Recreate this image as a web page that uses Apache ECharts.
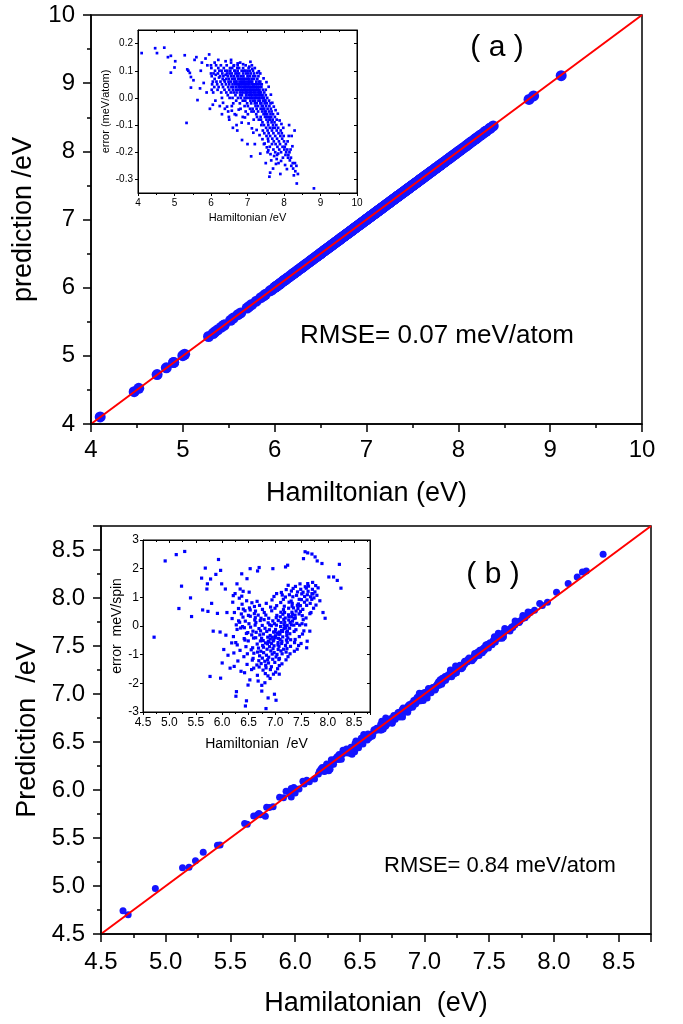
<!DOCTYPE html>
<html><head><meta charset="utf-8">
<script src="https://cdn.jsdelivr.net/npm/echarts@6/dist/echarts.min.js"></script>
<style>html,body{margin:0;padding:0;background:#fff}#c{width:683px;height:1024px}</style>
</head><body><div id="c"></div>
<script>
// ---------------- tick labels ----------------
const mainTicksA = [4, 5, 6, 7, 8, 9, 10];
const mainTicksB = [4.5, 5.0, 5.5, 6.0, 6.5, 7.0, 7.5, 8.0, 8.5];
const mainMaxB = 8.75;
const insetAXTicks = [4, 5, 6, 7, 8, 9, 10];
const insetAYTicks = [-0.3, -0.2, -0.1, 0.0, 0.1, 0.2];
const insetAYRange = [-0.35, 0.25];
const insetBXTicks = [4.5, 5.0, 5.5, 6.0, 6.5, 7.0, 7.5, 8.0, 8.5];
const insetBXMax = 8.8;
const insetBYTicks = [-3, -2, -1, 0, 1, 2, 3];
// reference line y = x
const diagA = [4, 10];
const diagB = [4.5, 8.75];
// atoms / spins per cell used to convert per-atom (per-spin) error (meV) into total eV
const nAtomA = 24;
const nSpinB = 24;

// ---------------- panel (a): [Hamiltonian eV, error meV/atom] ----------------
const hamErrA = [
[4.1,0.165],[4.47,0.183],[4.52,0.165],[4.72,0.185],[4.82,0.15],[4.9,0.155],[4.9,0.093],[5.02,0.135],[5.0,0.112],
[5.28,0.157],[5.33,-0.092],[5.35,0.105],[5.38,0.1],[5.42,0.092],[5.45,0.077],[5.45,0.038],[5.52,0.065],[5.55,0.14],
[5.6,0.15],[5.63,-0.008],[5.7,0.035],[5.72,0.1],[5.75,0.13],[5.8,0.055],[5.85,0.145],[5.88,0.02],[5.9,0.12],
[5.95,0.16],[5.97,-0.04],[6.0,0.09],[6.02,0.03],[6.05,-0.025],[6.1,0.13],[6.0,0.12],[6.2,0.14],
[6.02,0.08],[6.03,0.05],[6.01,0.11],[6.06,0.02],[6.07,0.09],[6.05,0.06],
[6.1,0.07],[6.11,0.1],[6.09,0.04],[6.12,-0.01],[6.14,0.12],[6.15,0.06],[6.13,0.085],
[6.18,0.03],[6.19,0.09],[6.17,0.05],[6.2,0.11],[6.22,0.075],[6.23,0.1],[6.21,0.04],[6.24,-0.03],
[6.26,0.06],[6.27,0.12],[6.25,0.08],[6.28,0.02],[6.3,0.05],[6.31,0.09],[6.29,0.1],[6.32,0.07],[6.3,0.0],
[6.34,0.08],[6.35,0.11],[6.33,0.04],[6.36,0.065],[6.38,0.06],[6.39,0.1],[6.37,0.03],[6.4,0.085],[6.38,-0.04],
[6.42,0.07],[6.43,0.12],[6.41,0.05],[6.44,0.09],[6.42,0.02],
[6.46,0.08],[6.47,0.04],[6.45,0.1],[6.48,0.06],[6.46,0.01],[6.47,-0.05],
[6.5,0.05],[6.51,0.09],[6.49,0.07],[6.52,0.11],[6.5,0.03],[6.51,0.0],[6.49,-0.07],
[6.54,0.06],[6.55,0.08],[6.53,0.1],[6.56,0.04],[6.54,0.02],[6.55,0.13],
[6.58,0.07],[6.59,0.05],[6.57,0.09],[6.6,0.03],[6.58,0.11],[6.59,0.0],[6.57,-0.03],
[6.62,0.08],[6.63,0.06],[6.61,0.04],[6.64,0.1],[6.62,0.02],[6.63,0.12],[6.61,-0.02],[6.64,0.07],
[6.66,0.05],[6.67,0.09],[6.65,0.07],[6.68,0.03],[6.66,0.1],[6.67,0.01],[6.65,-0.06],[6.68,0.06],
[6.7,0.06],[6.71,0.08],[6.69,0.04],[6.72,0.11],[6.7,0.02],[6.71,0.09],[6.69,-0.01],[6.72,0.05],[6.7,-0.1],
[6.74,0.07],[6.75,0.03],[6.73,0.1],[6.76,0.05],[6.74,0.0],[6.75,0.08],[6.73,0.12],[6.76,0.04],
[6.78,0.06],[6.79,0.02],[6.77,0.09],[6.8,0.04],[6.78,0.07],[6.79,-0.02],[6.77,0.11],[6.8,0.01],[6.78,0.05],
[6.82,0.05],[6.83,0.08],[6.81,0.03],[6.84,0.1],[6.82,0.0],[6.83,0.06],[6.81,-0.04],[6.84,0.02],[6.82,0.07],
[6.86,0.04],[6.87,0.07],[6.85,0.01],[6.88,0.09],[6.86,0.05],[6.87,-0.01],[6.85,0.03],[6.88,0.11],[6.86,0.06],[6.87,-0.07],
[6.9,0.06],[6.91,0.03],[6.89,0.08],[6.92,0.0],[6.9,0.05],[6.91,0.1],[6.89,0.02],[6.92,-0.03],[6.9,0.07],[6.91,0.04],
[6.94,0.05],[6.95,0.02],[6.93,0.07],[6.96,0.09],[6.94,-0.01],[6.95,0.04],[6.93,0.06],[6.96,0.01],[6.94,0.1],[6.95,-0.05],[6.93,0.03],
[6.98,0.04],[6.99,0.06],[6.97,0.01],[7.0,0.08],[6.98,0.03],[6.99,-0.02],[6.97,0.05],[7.0,0.1],[6.98,0.0],[6.99,0.07],[6.97,0.02],
[7.02,0.05],[7.03,0.03],[7.01,0.07],[7.04,0.0],[7.02,0.09],[7.03,0.04],[7.01,-0.03],[7.04,0.06],[7.02,0.02],[7.03,0.11],[7.01,-0.06],[7.04,0.01],
[7.06,0.04],[7.07,0.02],[7.05,0.06],[7.08,-0.01],[7.06,0.08],[7.07,0.03],[7.05,0.05],[7.08,0.0],[7.06,0.1],[7.07,-0.04],[7.05,0.07],
[7.1,0.03],[7.11,0.05],[7.09,0.01],[7.12,0.07],[7.1,-0.02],[7.11,0.04],[7.09,0.09],[7.12,0.0],[7.1,0.06],[7.11,-0.05],[7.09,0.02],[7.12,0.12],
[7.14,0.02],[7.15,0.04],[7.13,0.06],[7.16,-0.01],[7.14,0.03],[7.15,0.08],[7.13,0.0],[7.16,0.05],[7.14,-0.04],[7.15,0.1],[7.13,0.01],
[7.18,0.03],[7.19,0.01],[7.17,0.05],[7.2,-0.02],[7.18,0.07],[7.19,0.02],[7.17,-0.05],[7.2,0.04],[7.18,0.09],[7.19,0.0],[7.17,-0.08],
[7.22,0.02],[7.23,0.04],[7.21,0.0],[7.24,0.06],[7.22,-0.03],[7.23,0.01],[7.21,0.08],[7.24,-0.06],[7.22,0.03],[7.23,0.05],[7.21,-0.01],
[7.26,0.01],[7.27,0.03],[7.25,-0.02],[7.28,0.05],[7.26,0.0],[7.27,0.07],[7.25,-0.04],[7.28,0.02],[7.26,-0.07],[7.27,0.04],
[7.3,0.0],[7.31,0.02],[7.29,-0.03],[7.32,0.04],[7.3,-0.01],[7.31,0.06],[7.29,-0.05],[7.32,0.01],[7.3,0.08],[7.31,-0.08],[7.29,0.03],
[7.34,-0.01],[7.35,0.01],[7.33,0.03],[7.36,-0.04],[7.34,0.05],[7.35,-0.02],[7.33,0.0],[7.36,-0.07],[7.34,0.02],[7.35,0.06],
[7.38,-0.02],[7.39,0.0],[7.37,0.02],[7.4,-0.05],[7.38,0.04],[7.39,-0.03],[7.37,-0.08],[7.4,0.01],[7.38,-0.1],[7.39,0.05],
[7.42,-0.03],[7.43,-0.01],[7.41,0.01],[7.44,-0.06],[7.42,0.03],[7.43,-0.04],[7.41,-0.09],[7.44,0.0],[7.42,-0.12],
[7.46,-0.04],[7.47,-0.02],[7.45,0.0],[7.48,-0.07],[7.46,0.02],[7.47,-0.05],[7.45,-0.1],[7.48,-0.01],[7.46,-0.13],
[7.5,-0.05],[7.51,-0.03],[7.49,-0.01],[7.52,-0.08],[7.5,0.01],[7.51,-0.11],[7.49,-0.06],[7.52,-0.14],[7.5,0.03],
[7.54,-0.06],[7.55,-0.04],[7.53,-0.02],[7.56,-0.09],[7.54,0.0],[7.55,-0.12],[7.53,-0.07],[7.56,-0.15],
[7.58,-0.07],[7.59,-0.05],[7.57,-0.1],[7.6,-0.03],[7.58,-0.13],[7.59,-0.01],[7.57,-0.16],[7.6,-0.08],
[7.62,-0.08],[7.63,-0.06],[7.61,-0.11],[7.64,-0.04],[7.62,-0.14],[7.63,-0.02],[7.61,-0.18],
[7.66,-0.09],[7.67,-0.12],[7.65,-0.07],[7.68,-0.15],[7.66,-0.05],[7.67,-0.17],
[7.7,-0.1],[7.71,-0.13],[7.69,-0.08],[7.72,-0.16],[7.7,-0.06],[7.71,-0.19],[7.69,-0.11],
[7.75,-0.11],[7.76,-0.14],[7.74,-0.09],[7.77,-0.17],[7.75,-0.07],[7.76,-0.2],
[7.8,-0.12],[7.81,-0.15],[7.79,-0.1],[7.82,-0.18],[7.8,-0.08],[7.81,-0.21],
[7.85,-0.13],[7.86,-0.16],[7.84,-0.11],[7.87,-0.19],[7.85,-0.24],
[7.9,-0.14],[7.91,-0.12],[7.89,-0.17],[7.92,-0.2],[7.9,-0.28],
[7.95,-0.15],[7.96,-0.18],[7.94,-0.13],[7.97,-0.22],
[8.0,-0.16],[8.01,-0.19],[7.99,-0.14],[8.02,-0.18],[8.05,-0.17],[8.06,-0.2],[8.04,-0.21],
[8.1,-0.16],[8.11,-0.22],[8.09,-0.19],[8.12,-0.21],[8.15,-0.2],[8.16,-0.23],[8.14,-0.1],
[8.2,-0.25],[8.21,-0.14],[8.19,-0.22],[8.25,-0.26],[8.24,-0.24],[8.3,-0.24],[8.31,-0.27],[8.29,-0.12],
[8.35,-0.315],[8.34,-0.25],[8.38,-0.28],[8.77,-0.36],[8.82,-0.333],[9.12,-0.4],
[6.3,-0.06],[6.5,-0.08],[6.6,-0.11],[6.72,-0.12],[6.85,-0.155],[7.0,-0.17],[7.1,-0.215],[7.2,-0.17],
[7.35,-0.205],[7.45,-0.17],[7.5,-0.24],[7.55,-0.2],[7.6,-0.29],[7.62,-0.275],[7.65,-0.23],[7.7,-0.26],[7.8,-0.225],
[6.4,0.135],[6.55,0.14],[6.8,0.13],[6.95,0.12],[7.05,0.115],[7.2,0.11],[7.35,0.09],
[6.62,0.118],[6.73,0.127],[6.88,0.124],[7.08,0.133],[7.13,0.107],[7.27,0.092],[7.31,0.098],[7.44,0.072],
[7.52,0.058],[7.58,0.041],[7.64,0.012],[7.68,-0.018],[7.72,-0.032],[7.77,-0.045],[7.83,-0.058],[7.88,-0.083],
[7.93,-0.096],[7.98,-0.11],[6.33,-0.018],[6.44,-0.032],[6.57,-0.047],[6.69,-0.063],[6.76,-0.043],[6.84,-0.091],
[6.93,-0.072],[7.03,-0.094],[7.12,-0.112],[7.16,-0.128],[7.25,-0.118],[7.33,-0.137],[7.41,-0.152],[7.47,-0.168],
[7.53,-0.182],[7.57,-0.193],[7.63,-0.207],[7.73,-0.214],[7.78,-0.243],[7.84,-0.205],[7.92,-0.232],[8.03,-0.247],
[8.08,-0.262],[8.18,-0.19],[8.27,-0.285],[8.13,-0.14],[8.23,-0.178]
];

// ---------------- panel (b): [Hamiltonian eV, error meV/spin] ----------------
const hamErrB = [
[4.67,3.05],[4.71,-0.39],[4.92,2.27],[5.13,2.49],[5.29,2.6],[5.18,0.61],[5.23,1.39],[5.4,0.98],[5.42,0.33],[5.61,1.67],
[5.63,0.56],[5.68,2.02],[5.71,1.29],[5.72,1.47],[5.73,0.51],[5.77,-1.76],[5.78,1.64],[5.8,0.79],[5.83,-0.18],
[5.88,1.8],[5.91,0.44],[5.93,2.32],[5.96,-0.21],[5.97,1.94],[5.97,-1.82],[5.99,1.47],[6.0,-1.29],[6.03,-0.82],
[6.06,1.29],[6.07,-0.32],[6.09,0.47],[6.11,-1.02],[6.15,-1.47],[6.18,-0.59],[6.21,1.06],[6.26,-2.45],[6.27,-2.29],
[6.28,1.47],[6.34,1.29],[6.37,1.82],[6.4,0.59],[6.42,-0.06],[6.44,-2.79],[6.46,-2.61],[6.47,1.65],[6.49,-2.06],
[6.53,2.0],[6.67,1.92],[6.7,2.04],[6.75,-2.27],[6.83,-2.88],[6.87,-2.51],[6.96,2.0],[6.99,-2.38],[7.02,-2.59],
[7.2,2.06],[7.24,2.12],[7.54,2.35],[7.62,2.55],[7.7,2.51],[7.76,2.41],[7.57,2.59],[7.8,2.27],[7.89,2.18],
[8.02,1.71],[8.11,1.71],[8.18,1.59],[8.22,2.15],[8.25,1.32],[7.91,0.47],[7.95,0.27],[7.85,0.88],[7.72,1.12],
[7.66,-0.18],[7.61,-0.53],[7.6,-0.76],[8.38,3.2],
[6.2,0.83],[6.213,-0.37],[6.188,0.26],[6.221,-0.94],
[6.231,0.47],[6.257,-0.58],[6.244,1.13],[6.267,0.04],[6.227,-1.41],
[6.311,0.18],[6.285,-0.66],[6.324,0.97],[6.297,-1.22],[6.309,0.61],[6.282,-0.12],
[6.35,-0.07],[6.363,0.42],[6.338,-0.85],[6.371,1.04],[6.331,0.13],[6.357,-1.58],
[6.394,0.31],[6.417,-0.44],[6.377,0.76],[6.411,-1.07],[6.385,-0.02],[6.424,-1.63],[6.397,1.21],
[6.459,-0.26],[6.432,0.53],[6.45,-0.72],[6.463,0.88],[6.438,0.17],[6.471,-1.34],[6.431,-0.49],
[6.507,0.08],[6.494,-0.52],[6.517,0.63],[6.477,-0.97],[6.511,1.18],[6.485,-0.23],[6.524,-1.88],[6.497,0.37],
[6.559,-0.31],[6.532,0.34],[6.55,-0.83],[6.563,0.81],[6.538,-0.04],[6.571,-1.19],[6.531,0.56],[6.557,-1.52],
[6.594,-0.42],[6.617,0.21],[6.577,-0.76],[6.611,0.68],[6.585,-1.13],[6.624,0.03],[6.597,-1.47],[6.609,0.43],[6.582,-0.18],[6.6,-0.95],
[6.663,-0.63],[6.638,0.12],[6.671,-0.91],[6.631,0.52],[6.657,-1.36],[6.644,-0.22],[6.667,-1.72],[6.627,0.29],[6.661,0.86],[6.635,-0.41],
[6.724,-0.52],[6.697,-0.09],[6.709,-1.04],[6.682,0.38],[6.7,-1.43],[6.713,-0.31],[6.688,-0.77],[6.721,0.19],[6.681,-1.92],[6.707,0.72],[6.694,-1.21],
[6.767,-0.68],[6.727,-0.17],[6.761,-1.12],[6.735,0.27],[6.774,-1.54],[6.747,-0.43],[6.759,0.02],[6.732,-0.88],[6.75,-2.07],[6.763,0.58],[6.738,-1.31],
[6.821,-0.59],[6.781,-0.28],[6.807,-1.23],[6.794,0.22],[6.817,-1.66],[6.777,-0.51],[6.811,-0.08],[6.785,-0.93],[6.824,-1.37],[6.797,0.47],[6.809,-1.98],[6.782,-0.74],
[6.85,-0.81],[6.863,-0.39],[6.838,-1.02],[6.871,0.11],[6.831,-1.46],[6.857,-0.62],[6.844,-0.19],[6.867,-1.74],[6.827,0.38],[6.861,-1.18],[6.835,0.79],[6.874,-0.53],
[6.897,-0.72],[6.909,-0.33],[6.882,-1.09],[6.9,0.04],[6.913,-1.52],[6.888,-0.56],[6.921,-0.87],[6.881,0.27],[6.907,-1.83],[6.894,-0.13],[6.917,0.66],[6.877,-1.29],[6.911,-0.45],
[6.935,-0.61],[6.974,-0.21],[6.947,-0.98],[6.959,0.18],[6.932,-1.42],[6.95,-0.39],[6.963,-0.79],[6.938,0.53],[6.971,-1.68],[6.931,0.01],[6.957,-1.16],[6.944,0.91],[6.967,-0.52],
[6.977,-0.48],[7.011,-0.12],[6.985,-0.93],[7.024,0.29],[6.997,-1.27],[7.009,-0.34],[6.982,-0.69],[7.0,0.62],[7.013,-1.61],[6.988,0.08],[7.021,-1.08],[6.981,1.03],[7.007,-0.41],[6.994,-0.21],
[7.067,-0.43],[7.027,0.03],[7.061,-0.82],[7.035,0.37],[7.074,-1.17],[7.047,-0.24],[7.059,-0.58],[7.032,0.71],[7.05,-1.49],[7.063,0.19],[7.038,-0.99],[7.071,-0.29],[7.031,1.13],[7.057,-0.66],
[7.094,-0.28],[7.117,0.12],[7.077,-0.71],[7.111,0.48],[7.085,-1.13],[7.124,-0.16],[7.097,-0.47],[7.109,0.82],[7.082,-1.38],[7.1,0.32],[7.113,-0.87],[7.088,-0.21],[7.121,1.17],[7.081,-1.68],[7.107,-0.02],
[7.144,-0.19],[7.167,0.23],[7.127,-0.61],[7.161,0.57],[7.135,-0.97],[7.174,0.04],[7.147,-0.38],[7.159,0.93],[7.132,-1.32],[7.15,0.41],[7.163,-0.81],[7.138,1.08],[7.171,-0.09],[7.131,-0.53],
[7.207,-0.07],[7.194,0.28],[7.217,-0.49],[7.177,0.69],[7.211,-0.91],[7.185,0.13],[7.224,-0.33],[7.197,1.01],[7.209,-1.18],[7.182,0.47],[7.2,-0.68],[7.213,1.27],[7.188,-0.02],[7.221,-0.22],
[7.231,0.02],[7.257,0.39],[7.244,-0.42],[7.267,0.83],[7.227,-0.79],[7.261,0.21],[7.235,-0.18],[7.274,1.09],[7.247,-1.07],[7.259,0.62],[7.232,-0.57],[7.25,1.42],[7.263,0.33],
[7.288,0.12],[7.321,0.48],[7.281,-0.27],[7.307,0.87],[7.294,-0.71],[7.317,0.32],[7.277,-0.08],[7.311,1.22],[7.285,-0.97],[7.324,0.69],[7.297,-0.48],[7.309,0.04],
[7.332,0.17],[7.35,0.63],[7.363,-0.19],[7.338,1.02],[7.371,-0.58],[7.331,0.41],[7.357,0.03],[7.344,1.31],[7.367,-0.88],[7.327,0.79],[7.361,0.26],
[7.385,0.28],[7.424,0.72],[7.397,-0.13],[7.409,1.07],[7.382,-0.47],[7.4,0.52],[7.413,0.09],[7.388,1.38],[7.421,-0.81],[7.381,0.38],
[7.457,0.42],[7.444,0.77],[7.467,0.03],[7.427,1.19],[7.461,-0.37],[7.435,0.61],[7.474,1.47],[7.447,-0.68],[7.459,0.93],
[7.482,0.51],[7.5,0.92],[7.513,0.08],[7.488,1.28],[7.521,-0.28],[7.481,0.71],[7.507,1.12],[7.494,-0.61],[7.517,0.36],
[7.527,0.58],[7.561,1.03],[7.535,0.22],[7.574,1.37],[7.547,-0.17],[7.559,0.83],[7.532,1.18],
[7.6,0.72],[7.613,1.09],[7.588,0.28],[7.621,1.48],[7.581,0.04],[7.607,0.91],[7.594,1.32],
[7.667,0.79],[7.627,1.21],[7.661,0.43],[7.635,1.39],[7.674,1.02],
[7.697,0.93],[7.709,1.28],[7.682,0.47],[7.7,1.13],[7.713,1.52],
[7.738,0.98],[7.771,1.41],[7.731,0.62],[7.757,1.19],
[7.794,1.07],[7.817,1.33],[7.777,0.73]
];

// ---------------- build chart ----------------
const FONT = '"Liberation Sans", Arial, sans-serif';
const BLACK = '#000';
const chart = echarts.init(document.getElementById('c'), null, {renderer: 'canvas'});

const predA = hamErrA.map(p => [p[0], p[0] + p[1] * nAtomA / 1000]);
const predB = hamErrB.map(p => [p[0], p[0] + p[1] * nSpinB / 1000]);

function mainAxis(o) {
  return {
    type: 'value', gridIndex: o.grid, position: o.position,
    min: o.min, max: o.max, interval: o.interval,
    name: o.name, nameLocation: 'middle', nameGap: o.nameGap,
    nameTextStyle: {fontSize: o.nameSize, fontFamily: FONT, color: BLACK},
    axisLine: {show: true, onZero: false, lineStyle: {color: BLACK, width: 1.5}},
    axisTick: {show: true, inside: false, length: 8, lineStyle: {color: BLACK, width: 1.5}},
    minorTick: {show: true, splitNumber: 2, length: 4, lineStyle: {color: BLACK, width: 1.5}},
    axisLabel: {show: true, fontSize: 24, fontFamily: FONT, color: BLACK, margin: o.margin,
      formatter: o.fmt, showMaxLabel: o.showMax !== false, showMinLabel: true, hideOverlap: false},
    splitLine: {show: false}, minorSplitLine: {show: false}, z: 5
  };
}
function insetAxis(o) {
  const ax = {
    type: 'value', gridIndex: o.grid, position: o.position,
    min: o.min, max: o.max,
    axisLine: {show: true, onZero: false, lineStyle: {color: BLACK, width: 1}},
    axisTick: {show: true, inside: !!o.inside, length: 3, lineStyle: {color: BLACK, width: 1}},
    minorTick: {show: !!o.minor, splitNumber: 2, length: 2, lineStyle: {color: BLACK, width: 1}},
    axisLabel: {show: !o.noLabel, fontSize: o.fontSize || 10, fontFamily: FONT, color: BLACK, margin: o.margin || 4,
      formatter: o.fmt, showMaxLabel: o.showMax !== false, hideOverlap: false},
    splitLine: {show: false}, minorSplitLine: {show: false}, z: 12
  };
  if (o.interval != null) ax.interval = o.interval;
  if (o.custom) { ax.axisLabel.customValues = o.custom; ax.axisTick.customValues = o.custom; }
  if (o.name) {
    ax.name = o.name; ax.nameLocation = 'middle'; ax.nameGap = o.nameGap;
    ax.nameTextStyle = {fontSize: o.nameSize || 11, fontFamily: FONT, color: BLACK};
  }
  return ax;
}

const option = {
  animation: false,
  backgroundColor: '#fff',
  grid: [
    {left: 91, top: 15, width: 551, height: 409, show: true, borderColor: BLACK, borderWidth: 1.5, backgroundColor: 'transparent', containLabel: false},
    {left: 138, top: 30, width: 219, height: 163, show: true, borderColor: BLACK, borderWidth: 1, backgroundColor: '#fff', z: 10, containLabel: false},
    {left: 101, top: 526, width: 550, height: 408, show: true, borderColor: BLACK, borderWidth: 1.5, backgroundColor: 'transparent', containLabel: false},
    {left: 143, top: 540, width: 227, height: 172, show: true, borderColor: BLACK, borderWidth: 1, backgroundColor: '#fff', z: 10, containLabel: false}
  ],
  xAxis: [
    mainAxis({grid: 0, position: 'bottom', min: mainTicksA[0], max: mainTicksA[mainTicksA.length - 1],
      interval: mainTicksA[1] - mainTicksA[0], name: 'Hamiltonian (eV)', nameGap: 56, nameSize: 27, margin: 14}),
    insetAxis({grid: 1, position: 'bottom', min: insetAXTicks[0], max: insetAXTicks[insetAXTicks.length - 1],
      interval: 1, minor: true, name: 'Hamiltonian /eV', nameGap: 19, nameSize: 11, margin: 5}),
    insetAxis({grid: 1, position: 'top', min: insetAXTicks[0], max: insetAXTicks[insetAXTicks.length - 1],
      interval: 1, minor: true, inside: true, noLabel: true}),
    mainAxis({grid: 2, position: 'bottom', min: mainTicksB[0], max: mainMaxB,
      interval: 0.5, name: 'Hamilatonian  (eV)', nameGap: 56, nameSize: 27, margin: 16,
      fmt: v => v.toFixed(1), showMax: false}),
    insetAxis({grid: 3, position: 'bottom', min: insetBXTicks[0], max: insetBXMax, interval: 0.5,
      minor: true, fontSize: 12, fmt: v => v.toFixed(1), showMax: false,
      name: 'Hamiltonian  /eV', nameGap: 25, nameSize: 14, margin: 5}),
    insetAxis({grid: 3, position: 'top', min: insetBXTicks[0], max: insetBXMax, interval: 0.5,
      minor: true, inside: true, noLabel: true})
  ],
  yAxis: [
    mainAxis({grid: 0, position: 'left', min: mainTicksA[0], max: mainTicksA[mainTicksA.length - 1],
      interval: mainTicksA[1] - mainTicksA[0], name: 'prediction /eV', nameGap: 50, nameSize: 27, margin: 16}),
    insetAxis({grid: 1, position: 'left', min: insetAYRange[0], max: insetAYRange[1], custom: insetAYTicks,
      fmt: v => v.toFixed(1), name: 'error (meV/atom)', nameGap: 27, nameSize: 11, margin: 5}),
    insetAxis({grid: 1, position: 'right', min: insetAYRange[0], max: insetAYRange[1], custom: insetAYTicks,
      inside: true, noLabel: true}),
    mainAxis({grid: 2, position: 'left', min: mainTicksB[0], max: mainMaxB,
      interval: 0.5, name: 'Prediction  /eV', nameGap: 58, nameSize: 27, margin: 16,
      fmt: v => v.toFixed(1), showMax: false}),
    insetAxis({grid: 3, position: 'left', min: insetBYTicks[0], max: insetBYTicks[insetBYTicks.length - 1],
      interval: 1, fontSize: 12, name: 'error  meV/spin', nameGap: 17, nameSize: 14, margin: 4}),
    insetAxis({grid: 3, position: 'right', min: insetBYTicks[0], max: insetBYTicks[insetBYTicks.length - 1],
      interval: 1, inside: true, noLabel: true})
  ],
  series: [
    {type: 'scatter', xAxisIndex: 0, yAxisIndex: 0, data: predA, symbol: 'circle', symbolSize: 11,
      itemStyle: {color: '#1414ff', opacity: 1}, z: 2, silent: true},
    {type: 'line', xAxisIndex: 0, yAxisIndex: 0, data: [[diagA[0], diagA[0]], [diagA[1], diagA[1]]],
      showSymbol: false, symbol: 'none', lineStyle: {color: '#ff0000', width: 2}, z: 3, silent: true},
    {type: 'scatter', xAxisIndex: 1, yAxisIndex: 1, data: hamErrA, symbol: 'rect', symbolSize: 2.7,
      itemStyle: {color: '#0000ff', opacity: 1}, z: 11, clip: true, silent: true},
    {type: 'scatter', xAxisIndex: 3, yAxisIndex: 3, data: predB, symbol: 'circle', symbolSize: 7,
      itemStyle: {color: '#1414ff', opacity: 1}, z: 2, silent: true},
    {type: 'line', xAxisIndex: 3, yAxisIndex: 3, data: [[diagB[0], diagB[0]], [diagB[1], diagB[1]]],
      showSymbol: false, symbol: 'none', lineStyle: {color: '#ff0000', width: 2}, z: 3, silent: true},
    {type: 'scatter', xAxisIndex: 4, yAxisIndex: 4, data: hamErrB, symbol: 'rect', symbolSize: 3.2,
      itemStyle: {color: '#0000ff', opacity: 1}, z: 11, clip: true, silent: true}
  ],
  graphic: [
    {type: 'text', x: 497, y: 48, z: 100, style: {text: '( a )', fontSize: 30, fontFamily: FONT, fill: BLACK, textAlign: 'center', verticalAlign: 'middle', textVerticalAlign: 'middle'}},
    {type: 'text', x: 300, y: 336, z: 100, style: {text: 'RMSE= 0.07 meV/atom', fontSize: 26, fontFamily: FONT, fill: BLACK, textAlign: 'left', verticalAlign: 'middle', textVerticalAlign: 'middle'}},
    {type: 'text', x: 493, y: 575, z: 100, style: {text: '( b )', fontSize: 30, fontFamily: FONT, fill: BLACK, textAlign: 'center', verticalAlign: 'middle', textVerticalAlign: 'middle'}},
    {type: 'text', x: 384, y: 866, z: 100, style: {text: 'RMSE= 0.84 meV/atom', fontSize: 22, fontFamily: FONT, fill: BLACK, textAlign: 'left', verticalAlign: 'middle', textVerticalAlign: 'middle'}}
  ]
};
chart.setOption(option);
</script>
</body></html>
